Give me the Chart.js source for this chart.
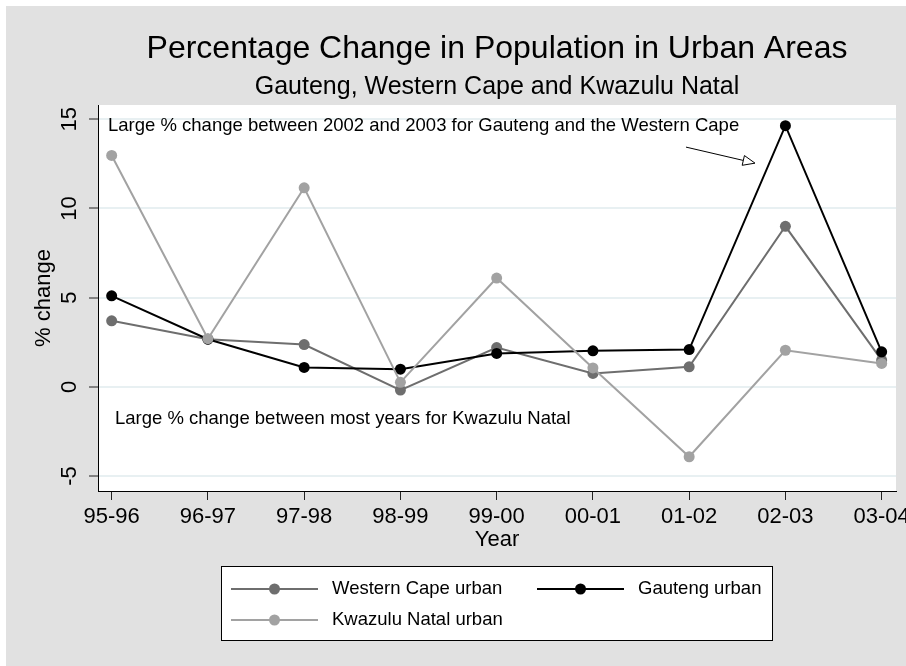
<!DOCTYPE html>
<html>
<head>
<meta charset="utf-8">
<script src="https://cdn.jsdelivr.net/npm/chart.js@4"></script>
<style>
  html, body { margin: 0; padding: 0; background: #fff; }
</style>
</head>
<body>
<canvas id="myChart" width="906" height="666"></canvas>
<script>
// chart values
var years = ['95-96', '96-97', '97-98', '98-99', '99-00', '00-01', '01-02', '02-03', '03-04'];
var westernCape = [3.7, 2.67, 2.37, -0.18, 2.2, 0.75, 1.12, 9.0, 1.5];
var gauteng = [5.1, 2.67, 1.09, 0.99, 1.87, 2.02, 2.09, 14.64, 1.96];
var kwazulu = [12.97, 2.7, 11.16, 0.25, 6.1, 1.06, -3.92, 2.05, 1.31];
var yTicks = [-5, 0, 5, 10, 15];

var seriesNames = ['Western Cape urban', 'Gauteng urban', 'Kwazulu Natal urban'];

var chartColors = {
    western: '#6e6e6e',
    gauteng: '#000000',
    kwazulu: '#a2a2a2',
    back: '#e1e1e1',
    grid: '#e8f0f2'
};

var FONT = "'Liberation Sans', Arial, sans-serif";
Chart.defaults.font.family = FONT;
Chart.defaults.color = '#000';

// notes placed in data coordinates (x = category index, y = % change)
var notes = [
    { text: 'Large % change between 2002 and 2003 for Gauteng and the Western Cape', x: -0.038, y: 14.6 },
    { text: 'Large % change between most years for Kwazulu Natal', x: 0.034, y: -1.8 }
];
var arrowFrom = [5.967, 13.44];
var arrowTo = [6.684, 12.54];

function points(values) {
    return values.map(function(v, i) { return { x: i, y: v }; });
}

function lineSet(label, values, color, order) {
    return {
        label: label,
        data: points(values),
        borderColor: color,
        backgroundColor: color,
        pointBackgroundColor: color,
        pointBorderWidth: 0,
        pointRadius: 5.5,
        pointHoverRadius: 5.5,
        borderWidth: 2,
        tension: 0,
        fill: false,
        order: order
    };
}

var backgroundPlugin = {
    id: 'stataBackground',
    beforeDraw: function(chart) {
        var ctx = chart.ctx, a = chart.chartArea;
        ctx.save();
        ctx.fillStyle = '#fff';
        ctx.fillRect(0, 0, chart.width, chart.height);
        ctx.fillStyle = chartColors.back;
        ctx.fillRect(6, 6, chart.width - 6, chart.height - 6);
        ctx.fillStyle = '#fff';
        ctx.fillRect(a.left, a.top, a.right - a.left, a.bottom - a.top);
        ctx.restore();
    }
};

var notesPlugin = {
    id: 'notes',
    afterDraw: function(chart) {
        var ctx = chart.ctx, xs = chart.scales.x, ys = chart.scales.y;
        ctx.save();
        ctx.font = '18.5px ' + FONT;
        ctx.fillStyle = '#000';
        ctx.textBaseline = 'middle';
        ctx.textAlign = 'left';
        notes.forEach(function(n) {
            ctx.fillText(n.text, xs.getPixelForValue(n.x), ys.getPixelForValue(n.y));
        });

        var x1 = xs.getPixelForValue(arrowFrom[0]), y1 = ys.getPixelForValue(arrowFrom[1]);
        var x2 = xs.getPixelForValue(arrowTo[0]), y2 = ys.getPixelForValue(arrowTo[1]);
        var ang = Math.atan2(y2 - y1, x2 - x1), len = 12, w = 5;
        var bx = x2 - len * Math.cos(ang), by = y2 - len * Math.sin(ang);
        ctx.strokeStyle = '#000';
        ctx.lineWidth = 1;
        ctx.beginPath();
        ctx.moveTo(x1, y1);
        ctx.lineTo(bx, by);
        ctx.stroke();
        ctx.beginPath();
        ctx.moveTo(x2, y2);
        ctx.lineTo(bx + w * Math.sin(ang), by - w * Math.cos(ang));
        ctx.lineTo(bx - w * Math.sin(ang), by + w * Math.cos(ang));
        ctx.closePath();
        ctx.fillStyle = '#fff';
        ctx.fill();
        ctx.stroke();
        ctx.restore();
    }
};

// boxed legend under the plot, two columns
var legendPlugin = {
    id: 'boxLegend',
    afterDraw: function(chart) {
        var ctx = chart.ctx;
        var bx = 221, by = 566, bw = 551, bh = 74;
        var cols = [231, 537], rows = [589, 620];
        ctx.save();
        ctx.fillStyle = '#fff';
        ctx.fillRect(bx, by, bw, bh);
        ctx.strokeStyle = '#000';
        ctx.lineWidth = 1;
        ctx.strokeRect(bx + 0.5, by + 0.5, bw, bh);
        chart.data.datasets.forEach(function(ds, i) {
            var x = cols[i % 2], y = rows[Math.floor(i / 2)];
            ctx.strokeStyle = ds.borderColor;
            ctx.lineWidth = 2;
            ctx.beginPath();
            ctx.moveTo(x, y);
            ctx.lineTo(x + 87, y);
            ctx.stroke();
            ctx.fillStyle = ds.borderColor;
            ctx.beginPath();
            ctx.arc(x + 43.5, y, 5.5, 0, Math.PI * 2);
            ctx.fill();
            ctx.fillStyle = '#000';
            ctx.font = '18.5px ' + FONT;
            ctx.textBaseline = 'middle';
            ctx.textAlign = 'left';
            ctx.fillText(ds.label, x + 101, y);
        });
        ctx.restore();
    }
};

function renderGraph() {
    var ctx = document.getElementById('myChart').getContext('2d');

    var lineChartData = {
        datasets: [
            lineSet(seriesNames[0], westernCape, chartColors.western, 2),
            lineSet(seriesNames[1], gauteng, chartColors.gauteng, 1),
            lineSet(seriesNames[2], kwazulu, chartColors.kwazulu, 0)
        ]
    };

    var lineChartOptions = {
        responsive: false,
        animation: false,
        events: [],
        layout: { padding: { left: 0, right: 10, top: 0, bottom: 113 } },
        plugins: {
            legend: { display: false },
            tooltip: { enabled: false },
            title: {
                display: true,
                text: 'Percentage Change in Population in Urban Areas',
                fullSize: false,
                color: '#000',
                font: { size: 32, weight: 'normal' },
                padding: { top: 30, bottom: 0 }
            },
            subtitle: {
                display: true,
                text: 'Gauteng, Western Cape and Kwazulu Natal',
                fullSize: false,
                color: '#000',
                font: { size: 25, weight: 'normal' },
                padding: { top: 4, bottom: 2.6 }
            }
        },
        scales: {
            x: {
                type: 'linear',
                min: -0.142,
                max: 8.149,
                afterBuildTicks: function(scale) {
                    scale.ticks = years.map(function(y, i) { return { value: i }; });
                },
                afterFit: function(scale) {
                    scale.height = 62;
                    scale.paddingLeft = 0;
                    scale.paddingRight = 0;
                },
                ticks: {
                    callback: function(value) { return years[value]; },
                    font: { size: 22 },
                    color: '#000',
                    padding: 4,
                    maxRotation: 0,
                    autoSkip: false
                },
                grid: { drawOnChartArea: false, tickLength: 9, tickColor: '#222', tickWidth: 1 },
                border: { color: '#000', width: 1 },
                title: { display: true, text: 'Year', color: '#000', font: { size: 22 }, padding: { top: 0, bottom: 0 } }
            },
            y: {
                type: 'linear',
                min: -5.84,
                max: 15.8,
                afterBuildTicks: function(scale) {
                    scale.ticks = yTicks.map(function(v) { return { value: v }; });
                },
                afterFit: function(scale) {
                    scale.width = 98;
                    scale.paddingTop = 0;
                    scale.paddingBottom = 0;
                },
                ticks: {
                    font: { size: 22 },
                    color: '#000',
                    padding: 7,
                    minRotation: 90,
                    maxRotation: 90,
                    crossAlign: 'center'
                },
                grid: { color: chartColors.grid, lineWidth: 2, tickLength: 9, tickColor: '#222', tickWidth: 1 },
                border: { color: '#000', width: 1 },
                title: { display: true, text: '% change', color: '#000', font: { size: 22 }, padding: { top: 31, bottom: 0 } }
            }
        }
    };

    var myChart = new Chart(ctx, {
        type: 'line',
        data: lineChartData,
        options: lineChartOptions,
        plugins: [backgroundPlugin, notesPlugin, legendPlugin]
    });
}

renderGraph();
</script>
</body>
</html>
